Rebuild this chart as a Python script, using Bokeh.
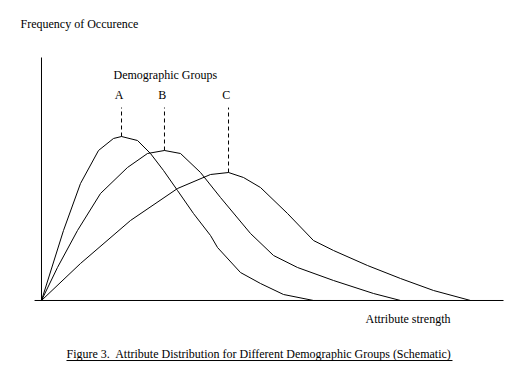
from bokeh.plotting import figure
from bokeh.models import Range1d
from bokeh.core.properties import value
from bokeh.embed import file_html
from bokeh.resources import INLINE

# ---- data (attribute strength vs. frequency, schematic units) ----
group_labels = ["A", "B", "C"]

a_x = [0.0, 0.476, 0.844, 1.234, 1.558, 1.732, 2.078, 2.359, 2.641, 2.944, 3.290, 3.658, 3.810, 4.307, 4.740, 5.238, 5.887, 6.255]
a_y = [0.0, 2.881, 4.815, 6.173, 6.667, 6.749, 6.584, 6.049, 5.350, 4.527, 3.580, 2.675, 2.181, 1.152, 0.700, 0.247, 0.0, 0.0]

b_x = [0.0, 0.346, 0.779, 1.277, 1.861, 2.294, 2.662, 3.009, 3.442, 3.874, 4.524, 5.022, 5.541, 6.320, 7.186, 7.771]
b_y = [0.0, 1.358, 2.881, 4.403, 5.473, 6.049, 6.173, 6.049, 5.267, 4.239, 2.757, 1.852, 1.358, 0.823, 0.288, 0.0]

c_x = [0.0, 0.844, 1.926, 2.944, 3.658, 4.048, 4.372, 4.740, 5.325, 5.887, 6.320, 7.056, 7.771, 8.485, 9.286]
c_y = [0.0, 1.523, 3.292, 4.609, 5.185, 5.267, 5.062, 4.650, 3.580, 2.469, 2.058, 1.440, 0.905, 0.412, 0.0]

y_title = "Frequency of Occurence"
x_title = "Attribute strength"
legend_title = "Demographic Groups"
caption = "Figure 3.\u00a0 Attribute Distribution for Different Demographic Groups (Schematic)"

# ---- figure ----
FONT = value("Liberation Serif")
FS = "12px"
DY = 0.185  # small baseline correction for text

p = figure(width=514, height=371, output_backend="svg", toolbar_location=None,
           x_range=Range1d(-0.8874, 10.238), y_range=Range1d(-2.922, 12.346),
           x_axis_type=None, y_axis_type=None, min_border=0)
p.outline_line_color = None
p.grid.visible = False
p.background_fill_color = "white"
p.border_fill_color = "white"

# axes
p.segment(x0=[0.0], y0=[0.0], x1=[0.0], y1=[10.0], line_color="black", line_width=1)
p.segment(x0=[-0.15], y0=[0.0], x1=[10.0], y1=[0.0], line_color="black", line_width=1)

series = [(a_x, a_y), (b_x, b_y), (c_x, c_y)]
for (xs, ys), lab in zip(series, group_labels):
    p.line(xs, ys, line_color="black", line_width=1)
    i = max(range(len(ys)), key=lambda k: ys[k])
    px, py = xs[i], ys[i]
    p.segment(x0=[px], y0=[py], x1=[px], y1=[7.94], line_color="black",
              line_width=1, line_dash="4 3")
    p.text(x=[px - 0.05], y=[8.27 + DY], text=[lab], text_font=FONT, text_font_size=FS,
           text_align="center", text_baseline="alphabetic", text_color="black")

p.text(x=[1.558], y=[9.095 + DY], text=[legend_title], text_font=FONT, text_font_size=FS,
       text_baseline="alphabetic", text_color="black")
p.text(x=[-0.4545], y=[11.19 + DY], text=[y_title], text_font=FONT, text_font_size=FS,
       text_baseline="alphabetic", text_color="black")
p.text(x=[7.013], y=[-0.947 + DY], text=[x_title], text_font=FONT, text_font_size=FS,
       text_baseline="alphabetic", text_color="black")
p.text(x=[0.541], y=[-2.387 + DY], text=[caption], text_font=FONT, text_font_size=FS,
       text_baseline="alphabetic", text_color="black")
# caption underline
p.segment(x0=[0.541], y0=[-2.47], x1=[8.896], y1=[-2.47], line_color="black", line_width=1)

open("out.html", "w").write(file_html(p, INLINE))
